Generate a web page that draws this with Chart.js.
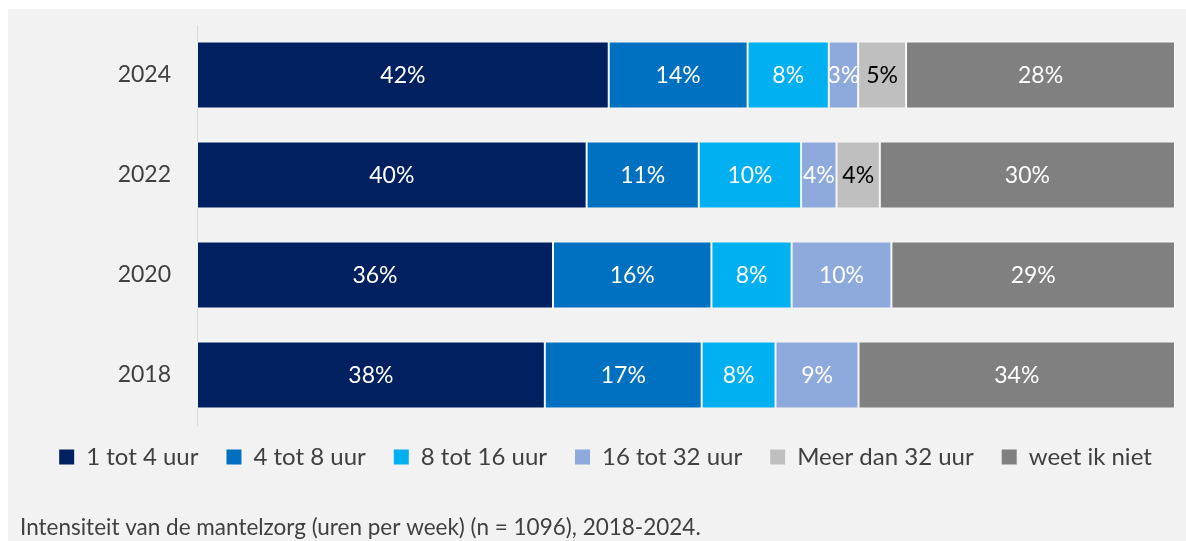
<!DOCTYPE html>
<html lang="nl">
<head>
<meta charset="UTF-8">
<title>Intensiteit van de mantelzorg</title>
<script src="https://cdn.jsdelivr.net/npm/chart.js"></script>
<style>
    body { margin: 0; background: #ffffff; font-family: Lato, sans-serif; }
    .panel { position: absolute; left: 8px; top: 9px; width: 1178px; height: 532px; background: #f2f2f2; }
</style>
</head>
<body>
<div class="panel"><canvas id="chart"></canvas></div>
<script>
// --- DATA (percentages per year) ---
const years = ['2024', '2022', '2020', '2018'];
const seriesNames = ['1 tot 4 uur', '4 tot 8 uur', '8 tot 16 uur', '16 tot 32 uur', 'Meer dan 32 uur', 'weet ik niet'];
const uur1tot4 = [42.1, 39.6, 36.4, 37.7];
const uur4tot8 = [14.2, 11.4, 16.2, 17.0];
const uur8tot16 = [8.3, 10.4, 8.2, 8.0];
const uur16tot32 = [3.0, 3.6, 10.2, 9.0];
const meerDan32 = [4.9, 4.4, null, null];
const weetIkNiet = [27.5, 30.0, 29.0, 34.3];
const caption = 'Intensiteit van de mantelzorg (uren per week) (n = 1096), 2018-2024.';

const series = [uur1tot4, uur4tot8, uur8tot16, uur16tot32, meerDan32, weetIkNiet];
const colors = ['#002060', '#0070C0', '#00B0F0', '#8EA9DB', '#BFBFBF', '#808080'];
const labelColors = ['#ffffff', '#ffffff', '#ffffff', '#ffffff', '#000000', '#ffffff'];
const textColor = '#404040';
const fontFamily = 'Lato, sans-serif';

// 100% stacked: every year is scaled to its own total
const totals = years.map((y, j) => series.reduce((sum, s) => sum + (s[j] || 0), 0));

// value labels in the middle of each segment
const barLabels = {
    id: 'barLabels',
    afterDatasetsDraw(chart) {
        const ctx = chart.ctx;
        ctx.save();
        ctx.font = '23px ' + fontFamily;
        ctx.textAlign = 'center';
        ctx.textBaseline = 'middle';
        chart.data.datasets.forEach((ds, i) => {
            chart.getDatasetMeta(i).data.forEach((bar, j) => {
                const v = series[i][j];
                if (v == null) return;
                const p = bar.getCenterPoint();
                ctx.fillStyle = labelColors[i];
                ctx.fillText(Math.round(v) + '%', p.x, p.y + 1);
            });
        });
        ctx.restore();
    }
};

// legend sits a bit closer to the bars than Chart.js would put it
const legendNudge = {
    id: 'legendNudge',
    afterLayout(chart) {
        const lg = chart.legend;
        lg.top -= 8; lg.bottom -= 8;
        lg.left += 8; lg.right += 8;
    }
};

new Chart(document.getElementById('chart'), {
    type: 'bar',
    data: {
        labels: years,
        datasets: series.map((s, i) => ({
            label: seriesNames[i],
            data: s.map((v, j) => v == null ? null : v / totals[j] * 100),
            backgroundColor: colors[i],
            borderColor: 'rgba(255,255,255,0.55)',
            borderWidth: 1,
            borderSkipped: false,
            categoryPercentage: 1,
            barPercentage: 0.67
        }))
    },
    options: {
        indexAxis: 'y',
        responsive: true,
        maintainAspectRatio: false,
        animation: false,
        layout: { padding: { top: 16, left: 12, right: 11, bottom: 0 } },
        scales: {
            x: { stacked: true, min: 0, max: 100, display: false },
            y: {
                stacked: true,
                grid: { display: false, drawTicks: false },
                border: { display: true, color: '#d9d9d9', width: 1 },
                ticks: { color: textColor, padding: 26, font: { family: fontFamily, size: 23 } },
                afterFit(scale) {
                    scale.width = 177;
                    scale.paddingTop = 0;
                    scale.paddingBottom = 0;
                }
            }
        },
        plugins: {
            legend: {
                position: 'bottom',
                labels: {
                    color: textColor,
                    boxWidth: 15,
                    boxHeight: 15,
                    padding: 28,
                    font: { family: fontFamily, size: 24 },
                    generateLabels(chart) {
                        return Chart.defaults.plugins.legend.labels.generateLabels(chart)
                            .map(item => ({ ...item, lineWidth: 0 }));
                    }
                }
            },
            title: {
                display: true,
                text: caption,
                position: 'bottom',
                align: 'start',
                color: textColor,
                font: { family: fontFamily, size: 22.5, weight: 'normal' },
                padding: { top: 27, bottom: 0 }
            },
            tooltip: { enabled: false }
        }
    },
    plugins: [barLabels, legendNudge]
});
</script>
</body>
</html>
